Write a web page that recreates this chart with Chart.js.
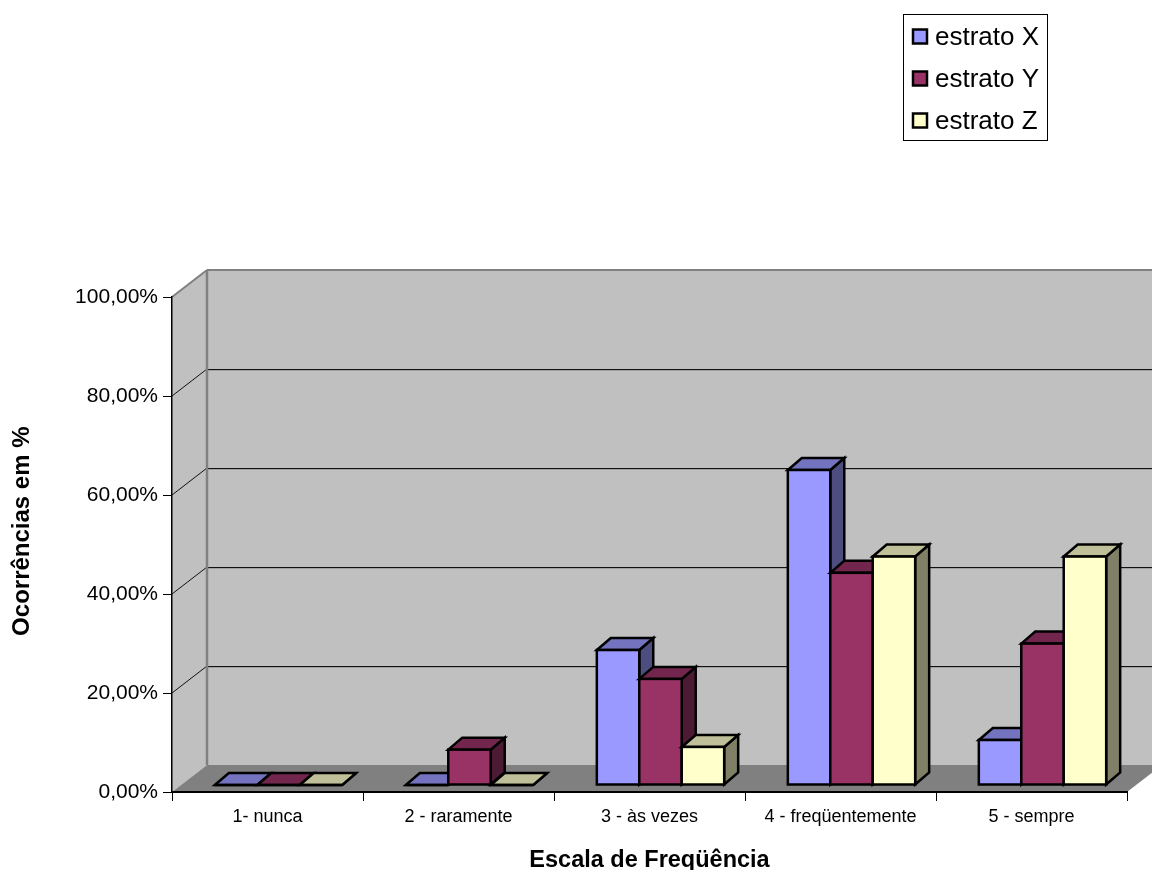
<!DOCTYPE html>
<html>
<head>
<meta charset="utf-8">
<title>Escala de Freqüência</title>
<script src="https://cdn.jsdelivr.net/npm/chart.js@4/dist/chart.umd.js"></script>
<style>
  html, body { margin: 0; padding: 0; background: #fff; }
  canvas { display: block; }
</style>
</head>
<body>
<canvas id="grafico" width="1152" height="870"></canvas>
<script>
var categorias = ['1- nunca', '2 - raramente', '3 - às vezes', '4 - freqüentemente', '5 - sempre'];
var estratoX = [0, 0, 27.27, 63.64, 9.09];
var estratoY = [0, 7.14, 21.43, 42.86, 28.57];
var estratoZ = [0, 0, 7.69, 46.15, 46.15];
var rotulosY = ['0,00%', '20,00%', '40,00%', '60,00%', '80,00%', '100,00%'];

var FONTE = '"Liberation Sans", Arial, sans-serif';

// profundidade da caixa 3D e das barras, em px
var caixaDx = 35, caixaDy = 27;
var barraDx = 14, barraDy = 12;
var frenteDx = 11, frenteDy = 7;
var contorno = 2.5;

var cores = {
  X: { frente: '#9999FF', topo: '#7373BF', lado: '#4D4D80' },
  Y: { frente: '#993366', topo: '#73264D', lado: '#4D1A33' },
  Z: { frente: '#FFFFCC', topo: '#BFBF99', lado: '#808066' }
};

function poligono(ctx, pts, fill, stroke, lw) {
  ctx.beginPath();
  ctx.moveTo(pts[0][0], pts[0][1]);
  for (var i = 1; i < pts.length; i++) ctx.lineTo(pts[i][0], pts[i][1]);
  ctx.closePath();
  if (fill) { ctx.fillStyle = fill; ctx.fill(); }
  if (stroke) { ctx.strokeStyle = stroke; ctx.lineWidth = lw; ctx.stroke(); }
}

function linha(ctx, x1, y1, x2, y2, cor, lw) {
  ctx.beginPath();
  ctx.moveTo(x1, y1);
  ctx.lineTo(x2, y2);
  ctx.strokeStyle = cor;
  ctx.lineWidth = lw;
  ctx.stroke();
}

// paredes, chao e linhas de grade em perspectiva
var caixa3d = {
  id: 'caixa3d',
  beforeDraw: function (chart) {
    var ctx = chart.ctx, a = chart.chartArea, y = chart.scales.y;
    ctx.save();
    ctx.fillStyle = '#fff';
    ctx.fillRect(0, 0, chart.width, chart.height);

    var l = a.left, r = a.right, t = a.top, b = a.bottom;
    poligono(ctx, [[l + caixaDx, t - caixaDy], [r + caixaDx, t - caixaDy], [r + caixaDx, b - caixaDy], [l + caixaDx, b - caixaDy]], '#C0C0C0');
    poligono(ctx, [[l, t], [l + caixaDx, t - caixaDy], [l + caixaDx, b - caixaDy], [l, b]], '#C0C0C0');
    poligono(ctx, [[l, b], [l + caixaDx, b - caixaDy], [r + caixaDx, b - caixaDy], [r, b]], '#808080');

    y.ticks.forEach(function (tick) {
      if (tick.value === 0 || tick.value === 100) return;
      var py = Math.round(y.getPixelForValue(tick.value));
      linha(ctx, l, py, l + caixaDx, py - caixaDy, '#111', 1);
      linha(ctx, l + caixaDx, py - caixaDy + 1, r + caixaDx, py - caixaDy + 1, '#808080', 1);
      linha(ctx, l + caixaDx, py - caixaDy + 0.5, r + caixaDx, py - caixaDy + 0.5, '#111', 1);
    });

    linha(ctx, l + caixaDx, t - caixaDy, l + caixaDx, b - caixaDy, '#808080', 2.5);
    linha(ctx, l + caixaDx, t - caixaDy, r + caixaDx, t - caixaDy, '#808080', 2);
    linha(ctx, l, t, l + caixaDx, t - caixaDy, '#808080', 2);
    ctx.restore();
  }
};

// cada serie cobre a anterior, entao as barras sao pintadas de X para Z:
// faces lateral e superior, frente pelo proprio Chart.js, contorno por cima
var barras3d = {
  id: 'barras3d',
  beforeDatasetDraw: function () { return false; },
  afterDatasetsDraw: function (chart) {
    var ctx = chart.ctx;
    ctx.save();
    ctx.translate(frenteDx, -frenteDy);
    ctx.lineJoin = 'miter';
    chart.data.datasets.forEach(function (ds, i) {
      var meta = chart.getDatasetMeta(i);
      meta.data.forEach(function (bar) {
        var e = bar.x - bar.width / 2, d = bar.x + bar.width / 2;
        poligono(ctx, [[d, bar.y], [d + barraDx, bar.y - barraDy], [d + barraDx, bar.base - barraDy], [d, bar.base]], ds.corLado, '#000', contorno);
        poligono(ctx, [[e, bar.y], [e + barraDx, bar.y - barraDy], [d + barraDx, bar.y - barraDy], [d, bar.y]], ds.corTopo, '#000', contorno);
      });
      meta.controller.draw();
      meta.data.forEach(function (bar) {
        ctx.strokeStyle = '#000';
        ctx.lineWidth = contorno;
        ctx.strokeRect(bar.x - bar.width / 2, bar.y, bar.width, bar.base - bar.y);
      });
    });
    ctx.restore();
  }
};

// legenda em caixa no canto superior direito
var legendaCaixa = {
  id: 'legendaCaixa',
  afterDraw: function (chart) {
    var ctx = chart.ctx;
    ctx.save();
    ctx.fillStyle = '#fff';
    ctx.fillRect(903, 14, 144, 126);
    ctx.strokeStyle = '#000';
    ctx.lineWidth = 1;
    ctx.strokeRect(903.5, 14.5, 144, 126);
    ctx.font = '26px ' + FONTE;
    ctx.textBaseline = 'middle';
    chart.data.datasets.forEach(function (ds, i) {
      var cy = 36.5 + i * 42;
      ctx.fillStyle = ds.backgroundColor;
      ctx.fillRect(913, cy - 7, 14, 14);
      ctx.strokeStyle = '#000';
      ctx.lineWidth = 2.5;
      ctx.strokeRect(913, cy - 7, 14, 14);
      ctx.fillStyle = '#000';
      ctx.fillText(ds.label, 935, cy + 1);
    });
    ctx.restore();
  }
};

function serie(nome, valores, c) {
  return {
    label: nome,
    data: valores,
    backgroundColor: c.frente,
    corTopo: c.topo,
    corLado: c.lado,
    borderWidth: 0
  };
}

var grafico = new Chart(document.getElementById('grafico'), {
  type: 'bar',
  data: {
    labels: categorias,
    datasets: [
      serie('estrato X', estratoX, cores.X),
      serie('estrato Y', estratoY, cores.Y),
      serie('estrato Z', estratoZ, cores.Z)
    ]
  },
  options: {
    responsive: false,
    animation: false,
    categoryPercentage: 0.6667,
    barPercentage: 1,
    layout: { padding: { top: 297, right: 25, left: 0, bottom: 0 } },
    plugins: {
      legend: { display: false },
      tooltip: { enabled: false }
    },
    scales: {
      x: {
        afterFit: function (s) { s.height = 78; },
        border: { color: '#000', width: 2 },
        grid: { color: '#000', drawOnChartArea: false, tickLength: 9, lineWidth: 1 },
        ticks: {
          color: '#000',
          autoSkip: false,
          maxRotation: 0,
          padding: 5,
          font: { family: FONTE, size: 18 }
        },
        title: {
          display: true,
          text: 'Escala de Freqüência',
          color: '#000',
          padding: { top: 0, bottom: -2 },
          font: { family: FONTE, size: 23.5, weight: 'bold', lineHeight: 1 }
        }
      },
      y: {
        min: 0,
        max: 100,
        afterFit: function (s) { s.width = 172; },
        border: { color: '#000', width: 1.5 },
        grid: { color: '#000', drawOnChartArea: false, tickLength: 9, lineWidth: 1 },
        ticks: {
          color: '#000',
          stepSize: 20,
          padding: 5,
          font: { family: FONTE, size: 21 },
          callback: function (v, i) { return rotulosY[i]; }
        },
        title: {
          display: true,
          text: '    Ocorrências em %',
          color: '#000',
          padding: { top: 10, bottom: 0 },
          font: { family: FONTE, size: 24, weight: 'bold', lineHeight: 1 }
        }
      }
    }
  },
  plugins: [caixa3d, barras3d, legendaCaixa]
});
</script>
</body>
</html>
